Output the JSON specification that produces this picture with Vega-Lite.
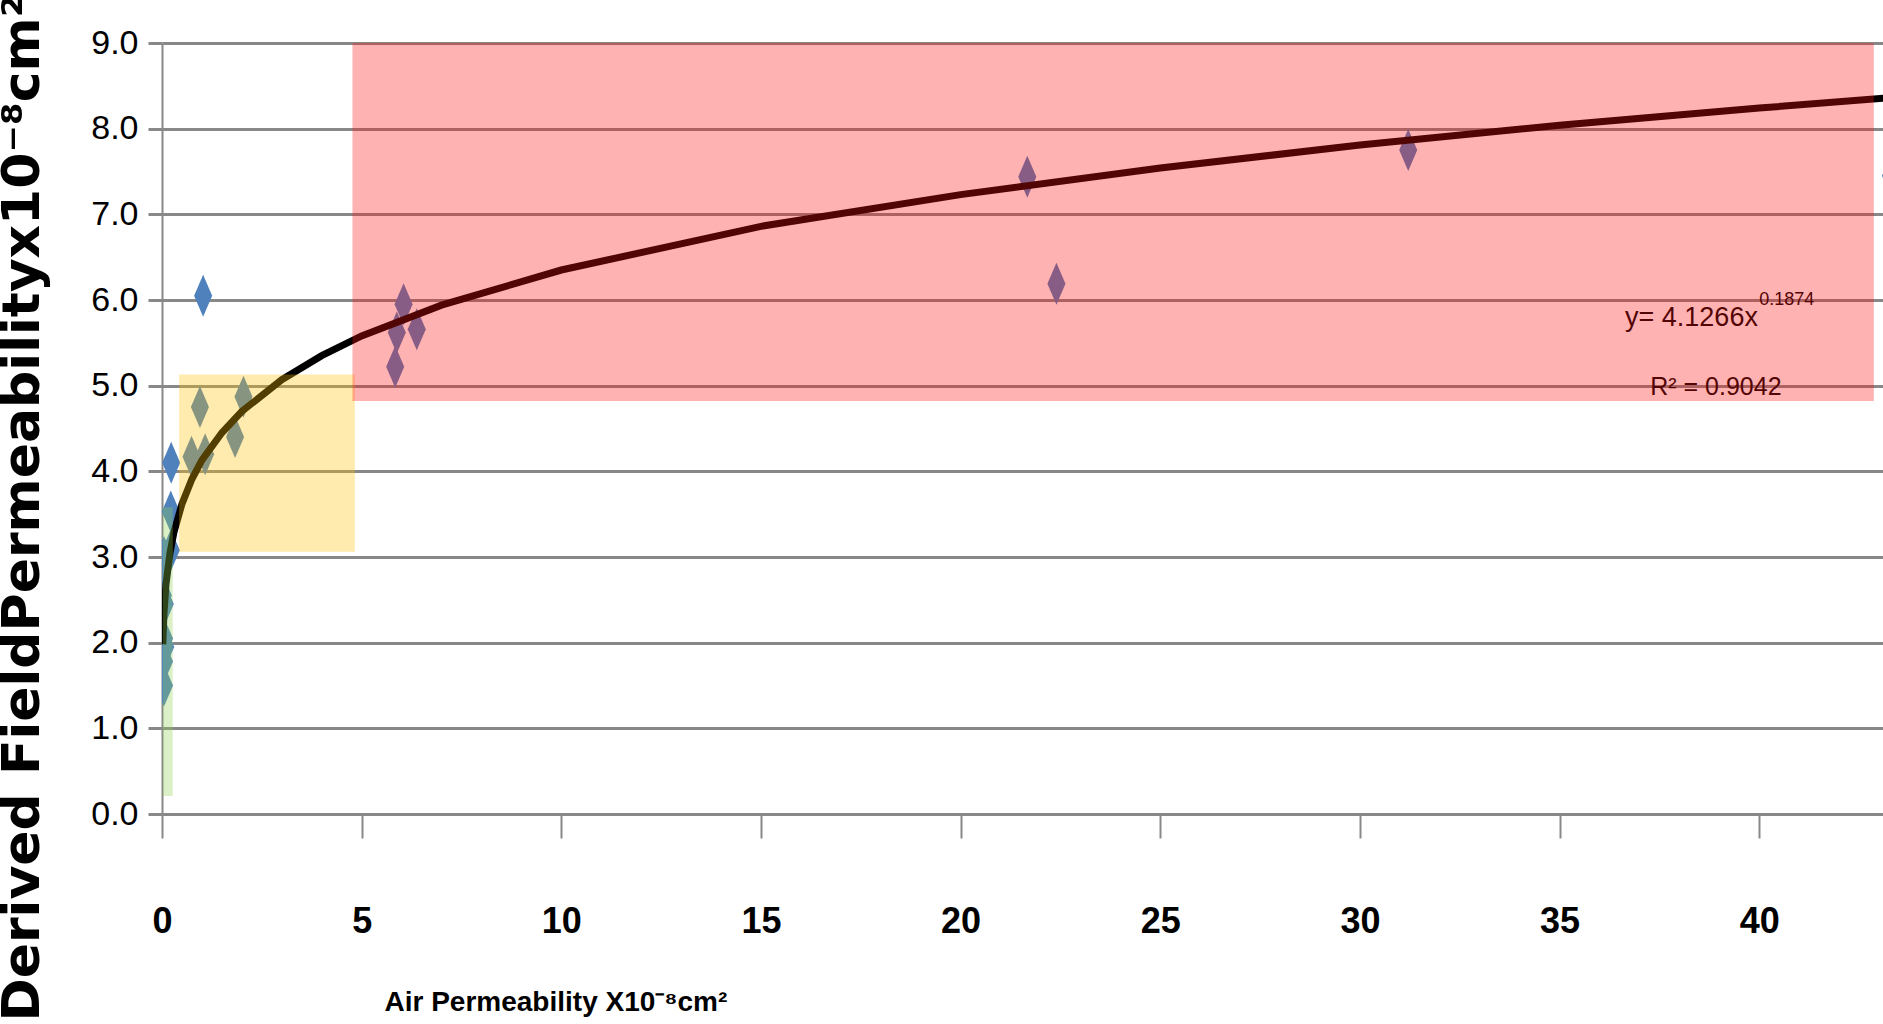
{
  "$schema": "https://vega.github.io/schema/vega-lite/v6.json",
  "width": 1721,
  "height": 771,
  "autosize": {"type": "none"},
  "padding": {"left": 162, "top": 43, "right": 0, "bottom": 210},
  "background": "white",
  "config": {"view": {"stroke": null}},
  "datasets": {
    "points": [
      {"x": 1.03, "y": 6.05},
      {"x": 0.23, "y": 4.10},
      {"x": 0.22, "y": 3.53},
      {"x": 0.05, "y": 3.00},
      {"x": 0.22, "y": 3.08},
      {"x": 0.02, "y": 2.55},
      {"x": 0.07, "y": 2.45},
      {"x": 0.05, "y": 2.05},
      {"x": 0.08, "y": 1.95},
      {"x": 0.05, "y": 1.78},
      {"x": 0.05, "y": 1.50},
      {"x": 0.95, "y": 4.75},
      {"x": 2.04, "y": 4.87},
      {"x": 1.83, "y": 4.40},
      {"x": 0.74, "y": 4.17},
      {"x": 1.08, "y": 4.20},
      {"x": 6.05, "y": 5.95},
      {"x": 6.38, "y": 5.66},
      {"x": 5.88, "y": 5.62},
      {"x": 5.84, "y": 5.22},
      {"x": 21.67, "y": 7.44},
      {"x": 22.40, "y": 6.19},
      {"x": 31.21, "y": 7.75},
      {"x": 43.3, "y": 7.45}
    ],
    "trend": [
      {"x": 0.02, "y": 1.98},
      {"x": 0.05, "y": 2.35},
      {"x": 0.1, "y": 2.68},
      {"x": 0.2, "y": 3.05},
      {"x": 0.3, "y": 3.29},
      {"x": 0.5, "y": 3.62},
      {"x": 0.75, "y": 3.91},
      {"x": 1, "y": 4.13},
      {"x": 1.5, "y": 4.45},
      {"x": 2, "y": 4.70},
      {"x": 3, "y": 5.07},
      {"x": 4, "y": 5.35},
      {"x": 5, "y": 5.58},
      {"x": 7, "y": 5.94},
      {"x": 10, "y": 6.35},
      {"x": 15, "y": 6.86},
      {"x": 20, "y": 7.23},
      {"x": 25, "y": 7.54},
      {"x": 30, "y": 7.81},
      {"x": 35, "y": 8.04},
      {"x": 40, "y": 8.24},
      {"x": 43.5, "y": 8.37}
    ],
    "zones": [
      {"zone": "low", "x": 0.02, "x2": 0.27, "y": 0.21, "y2": 3.58},
      {"zone": "mid", "x": 0.43, "x2": 4.83, "y": 3.06, "y2": 5.13},
      {"zone": "high", "x": 4.77, "x2": 42.87, "y": 4.82, "y2": 9.0}
    ]
  },
  "layer": [
    {
      "data": {"name": "points"},
      "mark": {"type": "point", "shape": "M0,-1L0.43,0L0,1L-0.43,0Z", "filled": true, "size": 1764, "color": "#4F81BD", "opacity": 1, "clip": true},
      "encoding": {
        "x": {
          "field": "x", "type": "quantitative",
          "scale": {"domain": [0, 43.1], "nice": false, "zero": false},
          "axis": {
            "orient": "bottom",
            "values": [0, 5, 10, 15, 20, 25, 30, 35, 40],
            "format": "d",
            "title": "Air Permeability  X10⁻⁸cm²",
            "titleFont": "Liberation Sans",
            "titleFontWeight": "bold",
            "titleFontSize": 28,
            "titleColor": "#000000",
            "titleAlign": "left",
            "titleBaseline": "alphabetic",
            "titleX": 222,
            "titleY": 196,
            "labelFont": "Liberation Sans",
            "labelFontSize": 36,
            "labelFontWeight": "bold",
            "labelColor": "#000000",
            "labelPadding": 66,
            "labelFlush": false,
            "tickSize": 24,
            "tickWidth": 2,
            "tickColor": "#888888",
            "domain": false,
            "grid": false
          }
        },
        "y": {
          "field": "y", "type": "quantitative",
          "scale": {"domain": [0, 9], "nice": false},
          "axis": {
            "values": [0, 1, 2, 3, 4, 5, 6, 7, 8, 9],
            "format": ".1f",
            "title": "Derived FieldPermeabilityx10⁻⁸cm²",
            "titleFont": "DejaVu Sans",
            "titleFontWeight": "bold",
            "titleFontSize": 52,
            "titleColor": "#000000",
            "titleAngle": -90,
            "titleAlign": "left",
            "titleBaseline": "alphabetic",
            "titleX": -124,
            "titleY": 978,
            "labelFont": "Liberation Sans",
            "labelFontSize": 34,
            "labelColor": "#000000",
            "labelPadding": 10,
            "labelFlush": false,
            "tickSize": 14,
            "tickWidth": 3,
            "tickColor": "#888888",
            "domainColor": "#888888",
            "domainWidth": 2,
            "grid": true,
            "gridColor": "#888888",
            "gridWidth": 3
          }
        }
      }
    },
    {
      "data": {"name": "trend"},
      "mark": {"type": "line", "color": "#000000", "strokeWidth": 7, "clip": true},
      "encoding": {
        "x": {"field": "x", "type": "quantitative"},
        "y": {"field": "y", "type": "quantitative"}
      }
    },
    {
      "data": {"values": [{}]},
      "mark": {"type": "text", "text": "y= 4.1266x", "align": "left", "baseline": "alphabetic", "font": "Liberation Sans", "fontSize": 27, "color": "#000000"},
      "encoding": {
        "x": {"datum": 36.64, "type": "quantitative"},
        "y": {"datum": 5.70, "type": "quantitative"}
      }
    },
    {
      "data": {"values": [{}]},
      "mark": {"type": "text", "text": "0.1874", "align": "left", "baseline": "alphabetic", "font": "Liberation Sans", "fontSize": 18, "color": "#000000"},
      "encoding": {
        "x": {"datum": 40.0, "type": "quantitative"},
        "y": {"datum": 5.94, "type": "quantitative"}
      }
    },
    {
      "data": {"values": [{}]},
      "mark": {"type": "text", "text": "R² = 0.9042", "align": "left", "baseline": "alphabetic", "font": "Liberation Sans", "fontSize": 25, "color": "#000000"},
      "encoding": {
        "x": {"datum": 37.27, "type": "quantitative"},
        "y": {"datum": 4.89, "type": "quantitative"}
      }
    },
    {
      "data": {"name": "zones"},
      "mark": {"type": "rect", "opacity": 0.32},
      "encoding": {
        "x": {"field": "x", "type": "quantitative"},
        "x2": {"field": "x2"},
        "y": {"field": "y", "type": "quantitative"},
        "y2": {"field": "y2"},
        "color": {
          "field": "zone", "type": "nominal",
          "scale": {"domain": ["low", "mid", "high"], "range": ["#92D050", "#FFC000", "#FF1010"]},
          "legend": null
        }
      }
    }
  ]
}
